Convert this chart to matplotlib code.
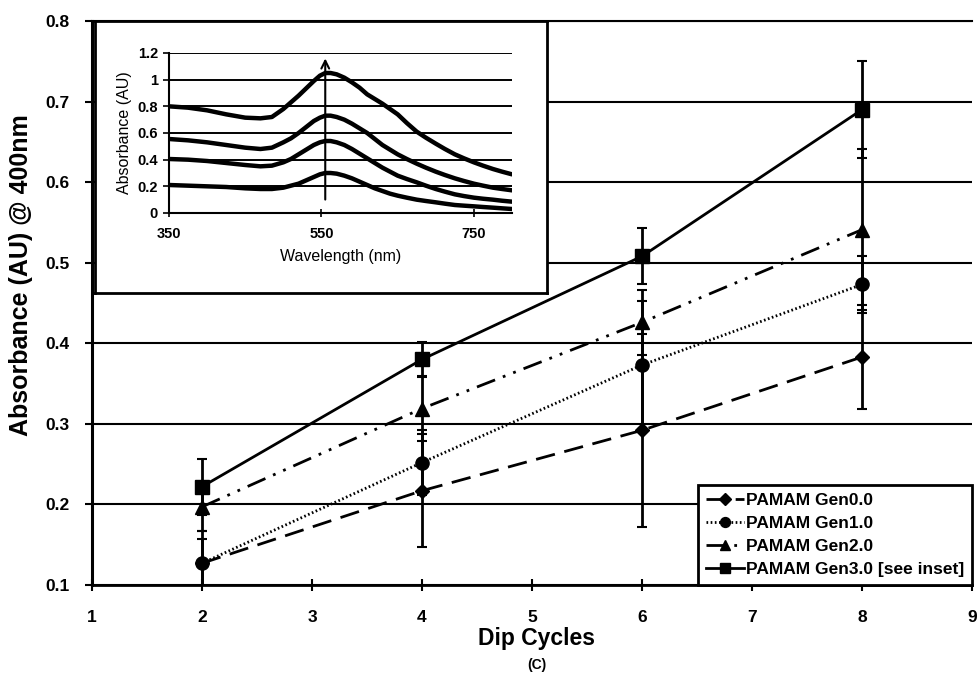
import matplotlib
matplotlib.use("Agg")
import matplotlib.pyplot as plt
import numpy as np

plt.rcParams['font.family'] = ['Liberation Sans', 'DejaVu Sans']

# Absorbance at 400 nm vs number of dip cycles
dip_cycles = [2, 4, 6, 8]
gen0 = [0.127, 0.217, 0.292, 0.383]
gen1 = [0.127, 0.252, 0.373, 0.473]
gen2 = [0.197, 0.319, 0.426, 0.541]
gen3 = [0.222, 0.380, 0.508, 0.690]
err0 = [0.03, 0.07, 0.12, 0.065]
err1 = [0.04, 0.04, 0.08, 0.035]
err2 = [0.03, 0.04, 0.04, 0.10]
err3 = [0.035, 0.022, 0.035, 0.06]
labels = ['PAMAM Gen0.0', 'PAMAM Gen1.0', 'PAMAM Gen2.0', 'PAMAM Gen3.0 [see inset]']

# Inset: Gen3.0 spectra after successive dips
wavelength = [350, 375, 400, 425, 450, 470, 485, 500, 510, 520, 530, 540, 548, 555, 562,
              570, 580, 590, 600, 610, 620, 630, 640, 650, 662, 675, 687, 700, 712, 725,
              737, 750, 762, 775, 787, 800]
spec_a = [0.21, 0.205, 0.20, 0.195, 0.185, 0.18, 0.18, 0.19, 0.205, 0.22, 0.245, 0.27,
          0.29, 0.30, 0.30, 0.295, 0.28, 0.26, 0.235, 0.21, 0.185, 0.165, 0.145, 0.13,
          0.115, 0.10, 0.09, 0.08, 0.07, 0.06, 0.055, 0.05, 0.045, 0.04, 0.035, 0.03]
spec_b = [0.405, 0.40, 0.39, 0.375, 0.36, 0.35, 0.355, 0.38, 0.405, 0.44, 0.475, 0.51,
          0.53, 0.54, 0.54, 0.53, 0.51, 0.48, 0.445, 0.41, 0.375, 0.34, 0.31, 0.28,
          0.255, 0.23, 0.205, 0.18, 0.16, 0.14, 0.127, 0.115, 0.107, 0.10, 0.092, 0.085]
spec_c = [0.555, 0.545, 0.53, 0.51, 0.49, 0.48, 0.49, 0.53, 0.56, 0.60, 0.645, 0.69,
          0.715, 0.73, 0.73, 0.72, 0.70, 0.67, 0.635, 0.60, 0.555, 0.51, 0.475, 0.44,
          0.405, 0.37, 0.34, 0.31, 0.285, 0.26, 0.24, 0.22, 0.205, 0.19, 0.18, 0.17]
spec_d = [0.80, 0.79, 0.77, 0.74, 0.715, 0.71, 0.72, 0.78, 0.83, 0.88, 0.935, 0.99,
          1.03, 1.05, 1.05, 1.04, 1.015, 0.98, 0.94, 0.89, 0.855, 0.82, 0.78, 0.74,
          0.675, 0.61, 0.565, 0.52, 0.48, 0.44, 0.41, 0.38, 0.355, 0.33, 0.31, 0.29]
inset_yticks = [0, 0.2, 0.4, 0.6, 0.8, 1.0, 1.2]
inset_ylabels = ['0', '0.2', '0.4', '0.6', '0.8', '1', '1.2']
inset_xticks = [350, 550, 750]

W, H = 979, 681
fig = plt.figure(figsize=(W / 100, H / 100), dpi=100)
fig.patch.set_facecolor('white')

ax = fig.add_axes([92 / W, 1 - 585 / H, 880 / W, 564 / H])
ax.set_xlim(1, 9)
ax.set_ylim(0.1, 0.8)
ax.set_xticks(range(1, 10))
ax.set_yticks(np.arange(0.1, 0.81, 0.1))
ax.set_yticklabels([f'{v:.1f}' for v in np.arange(0.1, 0.81, 0.1)])
ax.yaxis.grid(True, color='black', linewidth=1.5)
ax.set_axisbelow(True)
ax.spines['right'].set_visible(False)
ax.spines['top'].set_linewidth(1.5)
ax.spines['left'].set_linewidth(2.2)
ax.spines['bottom'].set_linewidth(2.0)
ax.tick_params(axis='y', direction='out', length=5, width=1.5, pad=11, labelsize=12.5)
ax.tick_params(axis='x', direction='inout', length=8, width=1.5, pad=14, labelsize=12.5)
for t in ax.get_xticklabels() + ax.get_yticklabels():
    t.set_fontweight('bold')

series = [
    (gen0, err0, 'D', 7.5, (0, (7, 3.5))),
    (gen1, err1, 'o', 9.5, (0, (0.6, 0.9))),
    (gen2, err2, '^', 10, (0, (7, 3, 1, 3, 1, 3))),
    (gen3, err3, 's', 10, '-'),
]
handles = []
for (y, e, m, ms, ls), lab in zip(series, labels):
    ax.errorbar(dip_cycles, y, yerr=e, fmt='none', ecolor='black',
                elinewidth=2, capsize=3.5, capthick=1.5, zorder=3)
    h, = ax.plot(dip_cycles, y, color='black', linestyle=ls, linewidth=2,
                 marker=m, markersize=ms, markerfacecolor='black',
                 markeredgecolor='black', zorder=4, label=lab)
    handles.append(h)

leg = ax.legend(handles=handles, loc='lower right', bbox_to_anchor=(1.0, 0.0),
                borderaxespad=0, frameon=True, fancybox=False,
                prop={'weight': 'bold', 'size': 12.5}, handlelength=2.2,
                handletextpad=0.1, labelspacing=0.45, borderpad=0.45,
                markerscale=0.75)
leg.get_frame().set_edgecolor('black')
leg.get_frame().set_linewidth(2)
leg.get_frame().set_alpha(1)

fig.text(21 / W, 1 - 275 / H, 'Absorbance (AU) @ 400nm', rotation=90,
         ha='center', va='center', fontsize=18, fontweight='bold')
fig.text(536 / W, 1 - 639 / H, 'Dip Cycles', ha='center', va='center',
         fontsize=16.5, fontweight='bold')
fig.text(537 / W, 1 - 665 / H, '(C)', ha='center', va='center',
         fontsize=10, fontweight='bold')

# Inset frame
frame = fig.add_axes([95 / W, 1 - 293 / H, 452 / W, 272 / H])
frame.set_xticks([])
frame.set_yticks([])
frame.set_facecolor('white')
for s in frame.spines.values():
    s.set_linewidth(2)
frame.set_zorder(5)

ins = fig.add_axes([169 / W, 1 - 213 / H, 343 / W, 160 / H])
ins.set_zorder(6)
ins.set_facecolor('white')
ins.set_xlim(350, 800)
ins.set_ylim(0, 1.2)
ins.set_xticks(inset_xticks)
ins.set_yticks(inset_yticks)
ins.set_yticklabels(inset_ylabels)
ins.yaxis.grid(True, color='black', linewidth=1.4)
ins.set_axisbelow(True)
ins.spines['right'].set_visible(False)
ins.spines['top'].set_visible(False)
ins.spines['left'].set_linewidth(1.5)
ins.spines['bottom'].set_linewidth(1.5)
ins.tick_params(axis='y', direction='out', length=4, width=1.2, pad=4, labelsize=10.5)
ins.tick_params(axis='x', direction='inout', length=6, width=1.2, pad=7, labelsize=10.5)
for t in ins.get_xticklabels() + ins.get_yticklabels():
    t.set_fontweight('bold')
for spec in [spec_a, spec_b, spec_c, spec_d]:
    ins.plot(wavelength, spec, color='black', linewidth=3.2,
             solid_joinstyle='round', solid_capstyle='round', zorder=3)
ins.annotate('', xy=(555, 1.18), xytext=(555, 0.08),
             arrowprops=dict(arrowstyle='->', color='black', lw=1.5,
                             mutation_scale=14), zorder=4)
ins.set_xlabel('Wavelength (nm)', fontsize=11.5, labelpad=6)
ins.set_ylabel('Absorbance (AU)', fontsize=11.5, labelpad=4)

fig.savefig('out.png', dpi=100, facecolor='white')
